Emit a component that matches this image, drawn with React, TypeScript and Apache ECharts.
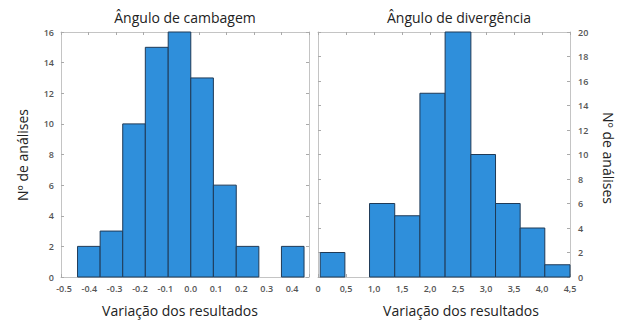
import React, { useEffect, useRef } from "react";
import * as echarts from "echarts";

// Left histogram: Ângulo de cambagem
const camberEdges = [-0.44, -0.358, -0.276, -0.194, -0.111, -0.029, 0.053, 0.136, 0.218, 0.3, 0.382];
const camberCounts = [2, 3, 10, 15, 16, 13, 6, 2, 0, 2];

// Right histogram: Ângulo de divergência
const toeEdges = [0.04, 0.48, 0.92, 1.37, 1.82, 2.27, 2.73, 3.17, 3.61, 4.05, 4.5];
const toeCounts = [2, 0, 6, 5, 15, 20, 10, 6, 4, 1];

const titles = ["Ângulo de cambagem", "Ângulo de divergência"];
const xName = "Variação dos resultados";
const yName = "Nº de análises";

const BAR = "#2f8fdb";
const EDGE = "#1f3a57";
const FRAME = "#c4c4c4";
const LABEL = "#555555";
const FONT = "'Open Sans', 'Noto Sans', sans-serif";

function toData(edges: number[], counts: number[]) {
  return counts.map((c, i) => [edges[i], edges[i + 1], c]);
}

const renderItem = (params: any, api: any) => {
  const x0 = api.value(0);
  const x1 = api.value(1);
  const v = api.value(2);
  if (!v) return null;
  const p0 = api.coord([x0, v]);
  const p1 = api.coord([x1, 0]);
  return {
    type: "rect",
    shape: { x: p0[0], y: p0[1], width: p1[0] - p0[0], height: p1[1] - p0[1] },
    style: { fill: BAR, stroke: EDGE, lineWidth: 1 },
  };
};

export default function App() {
  const ref = useRef<HTMLDivElement>(null);
  useEffect(() => {
    if (!ref.current) return;
    const chart = echarts.init(ref.current, null, { renderer: "svg" });
    const axisLine = { show: true, onZero: false, lineStyle: { color: FRAME, width: 1 } };
    const tickIn = { show: true, inside: true, length: 3, lineStyle: { color: "#aaaaaa" } };
    const lbl = { color: LABEL, fontSize: 9, fontFamily: FONT, fontWeight: 600 };
    const mirrorX = (gi: number, min: number, max: number, interval: number) => ({
      type: "value", gridIndex: gi, position: "top", min, max, interval,
      axisLine, axisTick: tickIn, axisLabel: { show: false }, splitLine: { show: false },
    });
    const mirrorY = (gi: number, max: number, pos: string) => ({
      type: "value", gridIndex: gi, position: pos, min: 0, max, interval: 2,
      axisLine, axisTick: tickIn, axisLabel: { show: false }, splitLine: { show: false },
    });
    chart.setOption({
      animation: false,
      grid: [
        { left: 61, right: 316, top: 32, bottom: 43 },
        { left: 318, right: 55, top: 32, bottom: 43 },
        // label-only grid for the left histogram's x tick labels
        { left: 64, right: 333, top: 32, bottom: 43 },
      ],
      xAxis: [
        {
          type: "value", gridIndex: 0, min: -0.5, max: 0.4, interval: 0.1,
          axisLine, axisTick: tickIn, splitLine: { show: false },
          axisLabel: { show: false },
        },
        {
          type: "value", gridIndex: 1, min: 0, max: 4.5, interval: 0.5,
          axisLine, axisTick: tickIn, splitLine: { show: false },
          axisLabel: {
            ...lbl, margin: 7,
            formatter: (v: number) => (v === 0 ? "0" : v.toFixed(1).replace(".", ",")),
          },
        },
        mirrorX(0, -0.5, 0.4, 0.1),
        mirrorX(1, 0, 4.5, 0.5),
        {
          type: "value", gridIndex: 2, min: -0.5, max: 0.4, interval: 0.1,
          axisLine: { show: false }, axisTick: { show: false }, splitLine: { show: false },
          axisLabel: { ...lbl, margin: 7, formatter: (v: number) => v.toFixed(1) },
        },
      ],
      yAxis: [
        {
          type: "value", gridIndex: 0, position: "left", min: 0, max: 16, interval: 2,
          axisLine, axisTick: tickIn, splitLine: { show: false },
          axisLabel: { ...lbl, margin: 7 },
        },
        {
          type: "value", gridIndex: 1, position: "right", min: 0, max: 20, interval: 2,
          axisLine, axisTick: tickIn, splitLine: { show: false },
          axisLabel: { ...lbl, margin: 8 },
        },
        mirrorY(0, 16, "right"),
        mirrorY(1, 20, "left"),
        {
          type: "value", gridIndex: 2, min: 0, max: 16, show: false,
        },
      ],
      series: [
        {
          type: "custom", xAxisIndex: 0, yAxisIndex: 0, renderItem,
          encode: { x: [0, 1], y: 2 }, data: toData(camberEdges, camberCounts),
        },
        {
          type: "custom", xAxisIndex: 1, yAxisIndex: 1, renderItem,
          encode: { x: [0, 1], y: 2 }, data: toData(toeEdges, toeCounts),
        },
      ],
      graphic: [
        {
          type: "text", x: 185, y: 17,
          style: { text: titles[0], fill: "#222", font: `14px ${FONT}`, textAlign: "center", textVerticalAlign: "middle" },
        },
        {
          type: "text", x: 459, y: 17,
          style: { text: titles[1], fill: "#222", font: `14px ${FONT}`, textAlign: "center", textVerticalAlign: "middle" },
        },
        {
          type: "text", x: 180, y: 310,
          style: { text: xName, fill: "#222", font: `14px ${FONT}`, textAlign: "center", textVerticalAlign: "middle" },
        },
        {
          type: "text", x: 461, y: 310,
          style: { text: xName, fill: "#222", font: `14px ${FONT}`, textAlign: "center", textVerticalAlign: "middle" },
        },
        {
          type: "text", x: 22, y: 155, rotation: Math.PI / 2,
          style: { text: yName, fill: "#222", font: `14px ${FONT}`, textAlign: "center", textVerticalAlign: "middle" },
        },
        {
          type: "text", x: 608, y: 158, rotation: -Math.PI / 2,
          style: { text: yName, fill: "#222", font: `14px ${FONT}`, textAlign: "center", textVerticalAlign: "middle" },
        },
      ],
    });
    return () => chart.dispose();
  }, []);
  return (
    <div
      ref={ref}
      style={{ position: "fixed", left: 0, top: 0, width: 625, height: 320, background: "#fff" }}
    />
  );
}
